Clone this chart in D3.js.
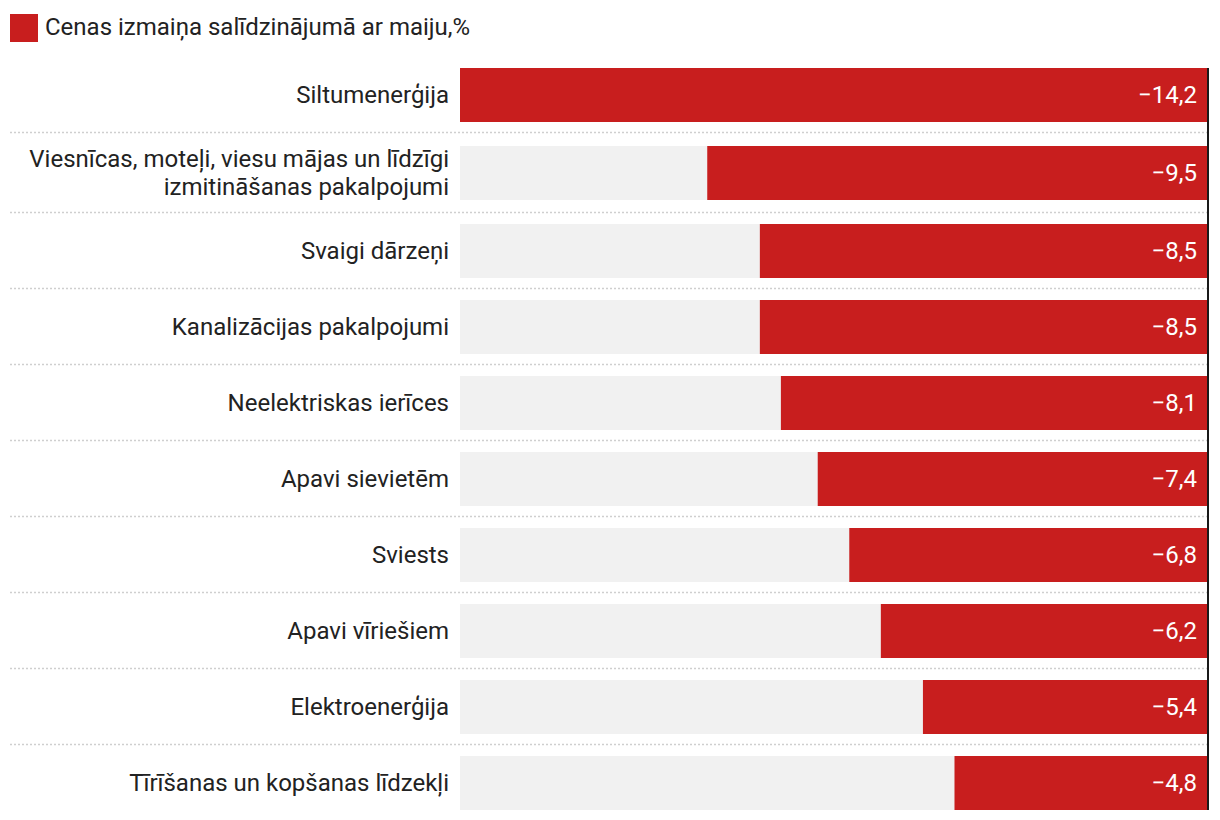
<!DOCTYPE html>
<html><head><meta charset="utf-8">
<script src="https://cdn.jsdelivr.net/npm/d3@7"></script>
<style>body{margin:0;background:#fff}svg{display:block;font-family:Roboto,"Noto Sans",sans-serif}</style>
</head><body><svg id="c" width="1220" height="820"></svg>
<script>
const legendLabel = "Cenas izmaiņa salīdzinājumā ar maiju,%";
const categories = [
  ["Siltumenerģija"],
  ["Viesnīcas, moteļi, viesu mājas un līdzīgi", "izmitināšanas pakalpojumi"],
  ["Svaigi dārzeņi"],
  ["Kanalizācijas pakalpojumi"],
  ["Neelektriskas ierīces"],
  ["Apavi sievietēm"],
  ["Sviests"],
  ["Apavi vīriešiem"],
  ["Elektroenerģija"],
  ["Tīrīšanas un kopšanas līdzekļi"]
];
const values = [-14.2, -9.5, -8.5, -8.5, -8.1, -7.4, -6.8, -6.2, -5.4, -4.8];

(function () {
const red = "#c81e1e", grey = "#f1f1f1";
const svg = d3.select("#c");
const plotL = 460, plotR = 1207, plotT = 68, barH = 54, fs = 24;

const x = d3.scaleLinear().domain([d3.min(values), 0]).range([plotL, plotR]);
const fmt = v => (v < 0 ? "\u2212" : "") + d3.format(".1f")(Math.abs(v)).replace(".", ",");

// row layout: multi-line labels get slightly taller rows
const rows = [];
let yc = plotT;
categories.forEach((c, i) => {
  const extra = (c.length - 1) * 2;
  if (i > 0) yc += extra;
  rows.push({label: c, value: values[i], y: yc, sepAfter: yc + barH + 10.5 + extra});
  yc += barH + 22 + extra;
});

// legend
svg.append("rect").attr("x", 10).attr("y", 14).attr("width", 28).attr("height", 28).attr("fill", red);
svg.append("text").attr("x", 45).attr("y", 35).attr("font-size", fs).attr("fill", "#222").text(legendLabel);

// separators
svg.selectAll("line.sep").data(rows.slice(0, -1)).join("line")
  .attr("x1", 10).attr("x2", plotR).attr("y1", d => d.sepAfter).attr("y2", d => d.sepAfter)
  .attr("stroke", "#cfcfcf").attr("stroke-width", 1.5).attr("stroke-dasharray", "2,2");

// background bars
svg.selectAll("rect.bg").data(rows).join("rect")
  .attr("x", x(d3.min(values))).attr("width", x(0) - x(d3.min(values)))
  .attr("y", d => d.y).attr("height", barH).attr("fill", grey);

// value bars
svg.selectAll("rect.val").data(rows).join("rect")
  .attr("x", d => x(d.value)).attr("width", d => x(0) - x(d.value))
  .attr("y", d => d.y).attr("height", barH).attr("fill", red);

// zero line
svg.append("line").attr("x1", x(0) + 1).attr("x2", x(0) + 1)
  .attr("y1", plotT).attr("y2", rows[rows.length - 1].y + barH)
  .attr("stroke", "#1a1a1a").attr("stroke-width", 2);

// value labels
svg.selectAll("text.v").data(rows).join("text")
  .attr("x", x(0) - 10).attr("y", d => d.y + barH / 2 + 8)
  .attr("text-anchor", "end").attr("font-size", fs).attr("fill", "#fff")
  .text(d => fmt(d.value));

// category labels
const lt = svg.selectAll("text.c").data(rows).join("text")
  .attr("text-anchor", "end").attr("font-size", fs).attr("fill", "#222");
lt.each(function(d) {
  const n = d.label.length, lh = 28;
  d3.select(this).selectAll("tspan").data(d.label).join("tspan")
    .attr("x", 449)
    .attr("y", (t, j) => d.y + barH / 2 + 8 + (j - (n - 1) / 2) * lh)
    .text(t => t);
});
})();
</script></body></html>
